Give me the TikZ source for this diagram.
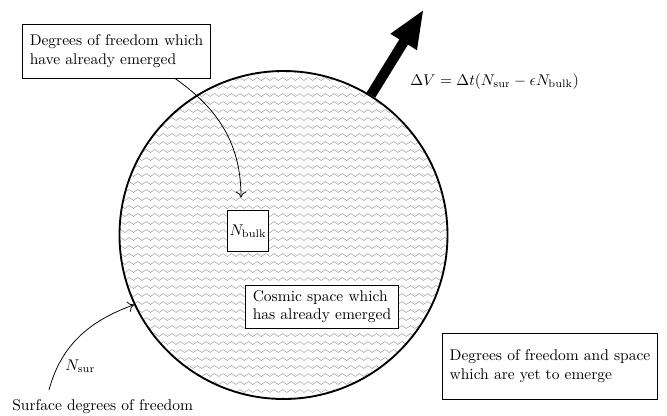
\documentclass[tikz,border=0pt]{standalone}
\usetikzlibrary{arrows.meta,decorations.pathmorphing,calc}
\begin{document}
\begin{tikzpicture}[x=0.645pt,y=0.645pt,
  box/.style={draw, line width=0.6pt, inner xsep=4.5pt, align=left, fill=white},
  thinarrow/.style={-{To[length=4pt,width=7pt]}, line width=0.5pt},
  zig/.style={decorate, decoration={zigzag, segment length=5.5pt, amplitude=0.95pt}, draw=black!40, line width=0.3pt},
  plain/.style={inner sep=0pt, anchor=base west}]
\useasboundingbox (0,0) rectangle (667,415);
% pattern inside the circle
\begin{scope}
  \clip (283.5,180) circle (164);
  \foreach \k in {-9,...,34} {
    \draw[zig] (110,{280-8*\k}) -- (460,{280-8*\k});
  }
\end{scope}
\node[circle, draw, line width=1.2pt, minimum size=211.56pt, inner sep=0pt] (C) at (283.5,180) {};
% boxes
\node[box, minimum height=34.8pt] (B1) at (116.5,364) {Degrees of freedom which\\have already emerged};
\node[box, inner sep=0pt, minimum size=27pt] (Nb) at (248,184) {$N_{\rm bulk}$};
\node[box] (B2) at (322,108.5) {Cosmic space which\\has already emerged};
\node[box, minimum height=42.6pt] (B3) at (550,49) {Degrees of freedom and space\\which are yet to emerge};
% labels
\node[plain] (F) at (410,330) {$\Delta V = \Delta t(N_{\rm sur} - \epsilon N_{\rm bulk})$};
\node[plain] (Ns) at (65,45) {$N_{\rm sur}$};
\node[plain] (S) at (12,5) {Surface degrees of freedom};
% connectors
\coordinate (a1) at ($(B1.south)+(58.5,0)$);
\coordinate (a1e) at ($(Nb.north)+(-7,12)$);
\draw[thinarrow] (a1) to[out=-35,in=90] (a1e);
\coordinate (s1) at (49,25);
\draw[thinarrow] (s1) to[out=75,in=200] (C.205);
\coordinate (tip) at (424,406);
\draw[-{Triangle[length=25pt,width=18pt]}, line width=6.5pt] (C.58) -- (tip);
\end{tikzpicture}
\end{document}
